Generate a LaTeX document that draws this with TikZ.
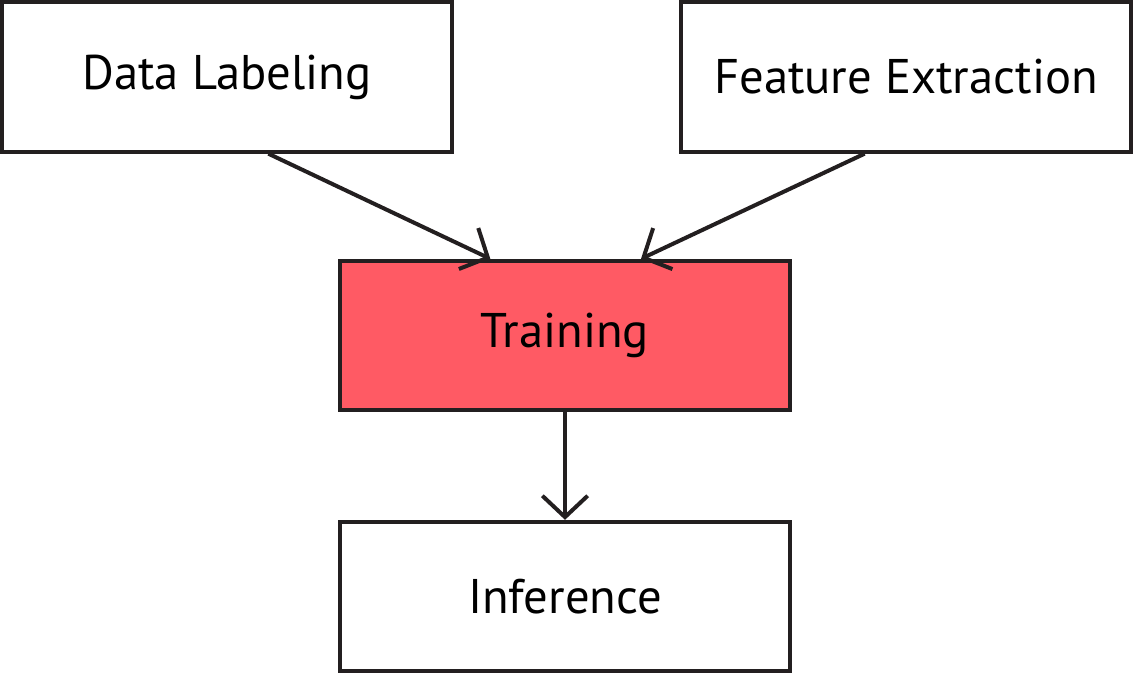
\documentclass[tikz,border=0pt]{standalone}
\usepackage{fontspec}
\setmainfont{PT Sans}
\usetikzlibrary{arrows.meta}
\definecolor{trainred}{RGB}{255,90,100}
\definecolor{ink}{RGB}{35,31,32}
\tikzset{
  stage/.style={draw=ink, line width=3pt, minimum width=337.5pt, minimum height=112pt,
    inner sep=0pt, font=\fontsize{36.5}{42}\selectfont},
  flow/.style={draw=ink, line width=3pt, -{Straight Barb[length=16pt, width=34pt, line width=3pt]}}
}
\begin{document}
\begin{tikzpicture}[x=0.75pt, y=-0.75pt]
  \useasboundingbox (0,0) rectangle (1133,675);
  \node [stage] (label) at (227,77) {Data Labeling};
  \node [stage] (feature) at (906,77) {Feature Extraction};
  \node [stage, fill=trainred] (train) at (565,335.5) {Training};
  \node [stage] (infer) at (565,596.5) {Inference};
  \draw [flow] ([xshift=31pt]label.south) -- ([xshift=-56pt]train.north);
  \draw [flow] ([xshift=-31pt]feature.south) -- ([xshift=57pt]train.north);
  \draw [flow] (train.south) -- (infer.north);
\end{tikzpicture}
\end{document}
